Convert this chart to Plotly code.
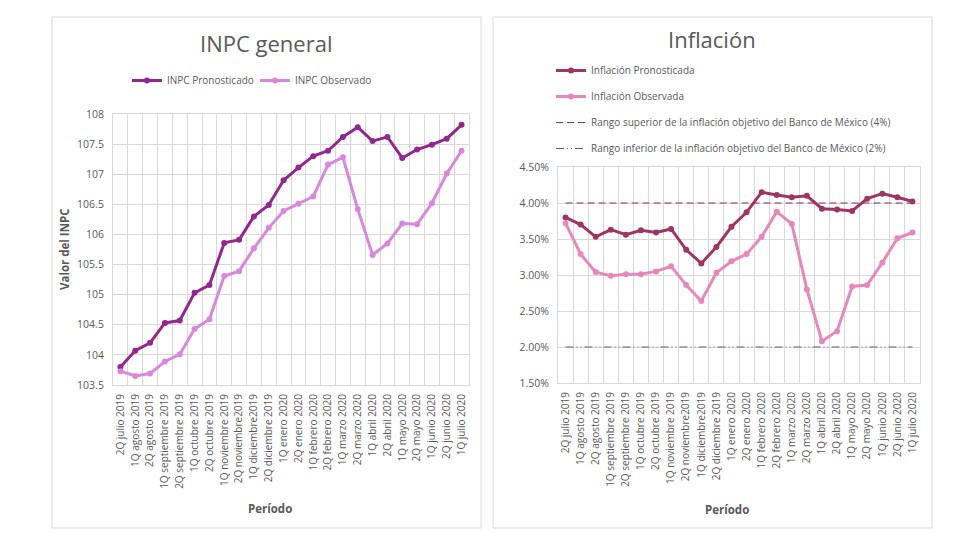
import plotly.graph_objects as go

W, H = 973, 534
OFF = 8  # page offset of the plot inside the browser window

periodos = ["2Q julio 2019", "1Q agosto 2019", "2Q agosto 2019", "1Q septiembre 2019",
            "2Q septiembre 2019", "1Q octubre 2019", "2Q octubre 2019", "1Q noviembre 2019",
            "2Q noviembre2019", "1Q diciembre2019", "2Q diciembre 2019", "1Q enero 2020",
            "2Q enero 2020", "1Q febrero 2020", "2Q febrero 2020", "1Q marzo 2020",
            "2Q marzo 2020", "1Q abril 2020", "2Q abril 2020", "1Q mayo 2020",
            "2Q mayo 2020", "1Q junio 2020", "2Q junio 2020", "1Q julio 2020"]

inpc_pronosticado = [103.80, 104.07, 104.20, 104.53, 104.57, 105.03, 105.16, 105.86,
                     105.91, 106.30, 106.49, 106.90, 107.11, 107.30, 107.39, 107.62,
                     107.78, 107.55, 107.62, 107.27, 107.41, 107.49, 107.59, 107.82]
inpc_observado = [103.73, 103.65, 103.69, 103.89, 104.01, 104.43, 104.59, 105.31,
                  105.39, 105.77, 106.11, 106.39, 106.51, 106.63, 107.16, 107.28,
                  106.42, 105.66, 105.85, 106.18, 106.17, 106.52, 107.01, 107.39]

infl_pronosticada = [0.0380, 0.0370, 0.0353, 0.0363, 0.0356, 0.0362, 0.0359, 0.0364,
                     0.0335, 0.0316, 0.0339, 0.0367, 0.0387, 0.0415, 0.0411, 0.0408,
                     0.0410, 0.0392, 0.0391, 0.0389, 0.0406, 0.0413, 0.0408, 0.0402]
infl_observada = [0.0372, 0.0329, 0.0304, 0.0299, 0.0301, 0.0301, 0.0305, 0.0312,
                  0.0286, 0.0264, 0.0303, 0.0319, 0.0329, 0.0353, 0.0388, 0.0371,
                  0.0280, 0.0208, 0.0222, 0.0284, 0.0286, 0.0317, 0.0351, 0.0359]
rango_superior = [0.04] * len(periodos)
rango_inferior = [0.02] * len(periodos)

FONT = "Open Sans"
TXT = "#595959"
GRID = "#D9D9D9"

FW, FH = W - OFF, H - OFF

def px_x(v):
    return (v - OFF) / FW

def px_y(v):
    return 1 - (v - OFF) / FH

fig = go.Figure()

fig.add_trace(go.Scatter(x=periodos, y=inpc_pronosticado, name="INPC Pronosticado",
                         mode="lines+markers", line=dict(color="#92278F", width=3),
                         marker=dict(size=6, color="#92278F"),
                         xaxis="x", yaxis="y", legend="legend"))
fig.add_trace(go.Scatter(x=periodos, y=inpc_observado, name="INPC Observado",
                         mode="lines+markers", line=dict(color="#D987DD", width=3),
                         marker=dict(size=6, color="#D987DD"),
                         xaxis="x", yaxis="y", legend="legend3"))

fig.add_trace(go.Scatter(x=periodos, y=infl_pronosticada, name="Inflación Pronosticada",
                         mode="lines+markers", line=dict(color="#9E3562", width=3),
                         marker=dict(size=6, color="#9E3562"),
                         xaxis="x2", yaxis="y2", legend="legend2", legendgroup="a"))
fig.add_trace(go.Scatter(x=periodos, y=infl_observada, name="Inflación Observada",
                         mode="lines+markers", line=dict(color="#E787BB", width=3),
                         marker=dict(size=6, color="#E787BB"),
                         xaxis="x2", yaxis="y2", legend="legend2", legendgroup="b"))
fig.add_trace(go.Scatter(x=periodos, y=rango_superior,
                         name="Rango superior de la inflación objetivo del Banco de México (4%)",
                         mode="lines", line=dict(color="#8E2A66", width=1, dash="7px,4px"),
                         xaxis="x2", yaxis="y2", legend="legend2", legendgroup="c"))
fig.add_trace(go.Scatter(x=periodos, y=rango_inferior,
                         name="Rango inferior de la inflación objetivo del Banco de México (2%)",
                         mode="lines", line=dict(color="#6B5A66", width=1, dash="8px,3px,1px,3px,1px,3px"),
                         xaxis="x2", yaxis="y2", legend="legend2", legendgroup="d"))

xcommon = dict(type="category", tickangle=-90, tickson="boundaries", showgrid=True,
               gridcolor=GRID, gridwidth=1, showline=True, linecolor=GRID, mirror=True,
               ticks="", tickfont=dict(family=FONT, size=10, color=TXT),
               ticklabelstandoff=4,
               range=[-0.5, len(periodos) - 0.5], automargin=False, fixedrange=True)
ycommon = dict(showgrid=True, gridcolor=GRID, gridwidth=1, showline=True, linecolor=GRID,
               mirror=True, ticks="", zeroline=False, ticklabelstandoff=6,
               tickfont=dict(family=FONT, size=10.5, color=TXT), automargin=False)

def ann(text, x, y, size, angle=0):
    return dict(text=text, x=px_x(x), y=px_y(y), xref="paper", yref="paper",
                xanchor="center", yanchor="middle", showarrow=False, textangle=angle,
                font=dict(family=FONT, size=size, color=TXT))

legfont = dict(family=FONT, size=10, color=TXT)

fig.update_layout(
    width=FW, height=FH, margin=dict(l=0, r=0, t=0, b=0),
    paper_bgcolor="white", plot_bgcolor="white",
    font=dict(family=FONT, color=TXT),
    xaxis=dict(xcommon, domain=[px_x(113), px_x(469)], anchor="y"),
    yaxis=dict(ycommon, domain=[px_y(385), px_y(114)], anchor="x",
               range=[103.5, 108], dtick=0.5),
    xaxis2=dict(xcommon, domain=[px_x(558), px_x(920)], anchor="y2"),
    yaxis2=dict(ycommon, domain=[px_y(383), px_y(167)], anchor="x2",
                range=[0.015, 0.045], dtick=0.005, tickformat=".2%"),
    legend=dict(orientation="h", x=px_x(127), y=px_y(66), xanchor="left", yanchor="top",
                font=legfont, bgcolor="rgba(0,0,0,0)", itemwidth=30),
    legend3=dict(orientation="h", x=px_x(255), y=px_y(66), xanchor="left", yanchor="top",
                 font=legfont, bgcolor="rgba(0,0,0,0)", itemwidth=30),
    legend2=dict(orientation="v", x=px_x(551), y=px_y(56), xanchor="left", yanchor="top",
                 font=legfont, bgcolor="rgba(0,0,0,0)", tracegroupgap=7, itemwidth=30),
    showlegend=True,
    shapes=[
        dict(type="rect", xref="paper", yref="paper", x0=px_x(52), x1=px_x(481),
             y0=px_y(528), y1=px_y(17), line=dict(color="#D9D9D9", width=1)),
        dict(type="rect", xref="paper", yref="paper", x0=px_x(493), x1=px_x(932),
             y0=px_y(528), y1=px_y(17), line=dict(color="#D9D9D9", width=1)),
    ],
    annotations=[
        ann("INPC general", 266, 43, 22),
        ann("Inflación", 712, 39, 22),
        ann("<b>Valor del INPC</b>", 64, 249, 11.5, -90),
        ann("<b>Período</b>", 270, 508, 11.5),
        ann("<b>Período</b>", 727, 509, 11.5),
    ],
)

fig.write_html("out.html")
